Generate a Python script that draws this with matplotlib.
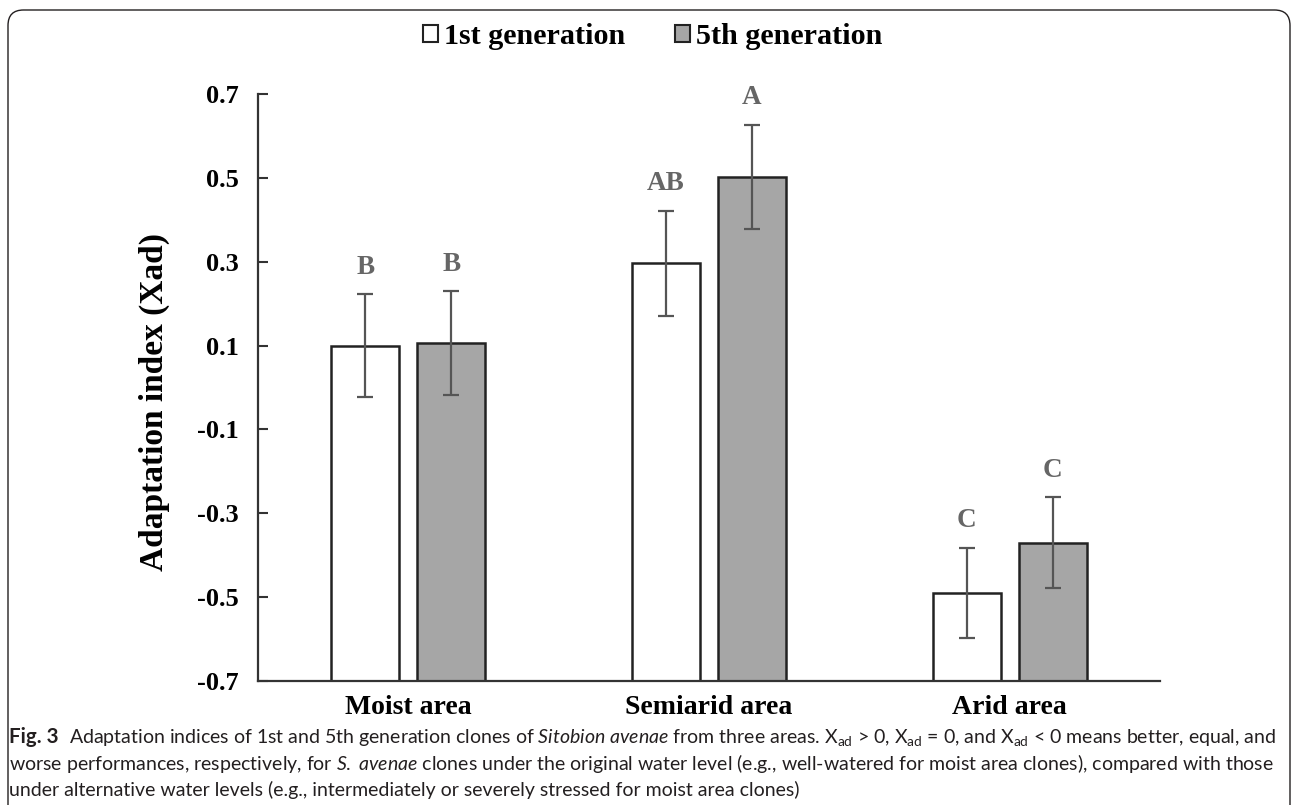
import matplotlib
matplotlib.use("Agg")
import matplotlib.pyplot as plt
import numpy as np
from matplotlib.patches import FancyBboxPatch, Rectangle

categories = ["Moist area", "Semiarid area", "Arid area"]
series_names = ["1st generation", "5th generation"]
gen1_values = [0.100, 0.296, -0.490]
gen1_errors = [0.122, 0.125, 0.108]
gen5_values = [0.106, 0.502, -0.370]
gen5_errors = [0.123, 0.125, 0.108]
gen1_letters = ["B", "AB", "C"]
gen5_letters = ["B", "A", "C"]
yticks = [-0.7, -0.5, -0.3, -0.1, 0.1, 0.3, 0.5, 0.7]
ytick_labels = ["-0.7", "-0.5", "-0.3", "-0.1", "0.1", "0.3", "0.5", "0.7"]

serif = "Liberation Serif"
cap_font = "Lato"
plt.rcParams["mathtext.fontset"] = "custom"
plt.rcParams["mathtext.rm"] = cap_font
plt.rcParams["mathtext.it"] = cap_font + ":italic"

fig = plt.figure(figsize=(12.92, 8.05), dpi=100)

# frame
frame = FancyBboxPatch((8/1292, -0.2), 1 - 10/1292, 1.2 - 10/805,
                       boxstyle="round,pad=0,rounding_size=0.012",
                       transform=fig.transFigure, fill=False,
                       edgecolor="#231f20", linewidth=1.0, mutation_aspect=1292/805)
fig.patches.append(frame)

ax = fig.add_axes([258/1292, 1 - 681/805, (1160 - 258)/1292, (681 - 94)/805])
x = np.arange(len(categories))
off = 0.143
w = 0.226
edge = "#222222"
ymin = -0.7
ax.bar(x - off, np.array(gen1_values) - ymin, w, bottom=ymin, color="white",
       edgecolor=edge, linewidth=1.8, zorder=2)
ax.bar(x + off, np.array(gen5_values) - ymin, w, bottom=ymin, color="#a6a6a6",
       edgecolor=edge, linewidth=1.8, zorder=2)
ecol = "#555555"
ax.errorbar(x - off, gen1_values, yerr=gen1_errors, fmt="none", ecolor=ecol,
            elinewidth=1.6, capsize=6, capthick=1.6, zorder=3)
ax.errorbar(x + off, gen5_values, yerr=gen5_errors, fmt="none", ecolor=ecol,
            elinewidth=1.6, capsize=6, capthick=1.6, zorder=3)

for i in range(len(categories)):
    ax.text(x[i] - off, gen1_values[i] + gen1_errors[i] + 0.065, gen1_letters[i],
            ha="center", va="center", fontsize=19.5, fontweight="bold",
            family=serif, color="#666666")
    ax.text(x[i] + off, gen5_values[i] + gen5_errors[i] + 0.065, gen5_letters[i],
            ha="center", va="center", fontsize=19.5, fontweight="bold",
            family=serif, color="#666666")

ax.set_xlim(-0.5, 2.5)
ax.set_ylim(ymin, 0.7)
ax.set_yticks(yticks)
ax.set_yticklabels(ytick_labels, fontsize=19, fontweight="bold", family=serif)
ax.set_xticks(x)
ax.set_xticklabels(categories, fontsize=20, fontweight="bold", family=serif)
ax.tick_params(axis="y", direction="in", length=7, width=1.5, color="#333333", pad=14)
ax.tick_params(axis="x", length=0, pad=10)
for s in ["top", "right"]:
    ax.spines[s].set_visible(False)
for s in ["left", "bottom"]:
    ax.spines[s].set_color("#333333")
    ax.spines[s].set_linewidth(1.6)
ax.set_ylabel("Adaptation index (Xad)", fontsize=24, fontweight="bold", family=serif)
ax.yaxis.set_label_coords((170 - 258)/902, 1 - (402 - 94)/587)

# legend
h1 = Rectangle((0, 0), 1, 1, facecolor="white", edgecolor=edge, linewidth=1.5)
h2 = Rectangle((0, 0), 1, 1, facecolor="#a6a6a6", edgecolor=edge, linewidth=1.5)
fig.legend([h1, h2], series_names, loc="center", bbox_to_anchor=(653/1292, 1 - 37/805),
           ncol=2, frameon=False, prop={"family": serif, "weight": "bold", "size": 21.7},
           handlelength=0.5, handleheight=0.5, handletextpad=0.2, columnspacing=1.65)

# caption
cap_color = "#231f20"
line1 = ("Adaptation indices of 1st and 5th generation clones of $\\mathit{Sitobion}$ "
         "$\\mathit{avenae}$ from three areas. X$_{\\mathrm{ad}}$ > 0, X$_{\\mathrm{ad}}$ = 0, "
         "and X$_{\\mathrm{ad}}$ < 0 means better, equal, and")
line2 = ("worse performances, respectively, for $\\mathit{S.}$ $\\mathit{avenae}$ clones under the original "
         "water level (e.g., well-watered for moist area clones), compared with those")
line3 = "under alternative water levels (e.g., intermediately or severely stressed for moist area clones)"

fig.canvas.draw()
r = fig.canvas.get_renderer()
size0 = 14.0
tmp0 = fig.text(0, 0, "Fig. 3", family=cap_font, fontweight="bold", fontsize=size0)
tmp1 = fig.text(0, 0, line1, family=cap_font, fontsize=size0)
wtot = tmp0.get_window_extent(r).width + 10 + tmp1.get_window_extent(r).width
tmp0.remove(); tmp1.remove()
cap_size = size0 * (1280 - 9 - 10) / (wtot - 10)

y1, y2, y3 = 1 - 737/805, 1 - 763/805, 1 - 790/805
t0 = fig.text(9/1292, y1, "Fig. 3", family=cap_font, fontweight="bold",
              fontsize=cap_size * 1.05, color=cap_color, va="center")
fig.canvas.draw()
bb = t0.get_window_extent(r)
fig.text((bb.x1 + 10)/1292, y1, line1, family=cap_font, fontsize=cap_size,
         color=cap_color, va="center")
fig.text(9/1292, y2, line2, family=cap_font, fontsize=cap_size, color=cap_color, va="center")
fig.text(9/1292, y3, line3, family=cap_font, fontsize=cap_size, color=cap_color, va="center")

fig.savefig("out.png", dpi=100)
